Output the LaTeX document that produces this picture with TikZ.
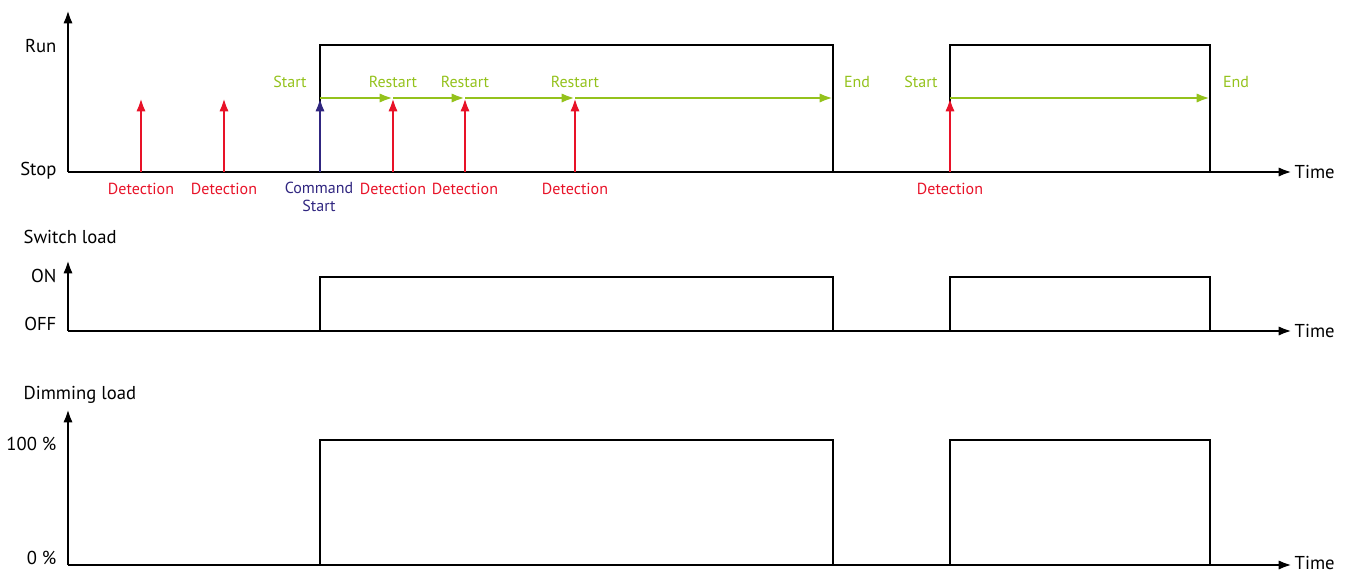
\documentclass[tikz,border=0pt]{standalone}
\usepackage{fontspec}
\setmainfont{PT Sans}
\usetikzlibrary{arrows.meta}

\definecolor{detred}{RGB}{232,18,40}
\definecolor{cmdblue}{RGB}{48,38,128}
\definecolor{timegreen}{RGB}{148,194,28}

\tikzset{
	axis/.style={line width=2pt,-{Latex[length=10pt,width=7pt]}},
	sig/.style={line width=2pt},
	det/.style={detred,line width=2pt,-{Latex[length=10pt,width=7pt]}},
	cmd/.style={cmdblue,line width=2pt,-{Latex[length=10pt,width=7pt]}},
	tmr/.style={timegreen,line width=2pt,-{Latex[length=10pt,width=7pt]}},
	big/.style={font=\fontsize{14}{16}\selectfont,inner sep=1pt},
	small/.style={font=\fontsize{12}{13.5}\selectfont,inner sep=1pt},
}

\begin{document}
\begin{tikzpicture}[x=0.75pt,y=-0.75pt]
	\useasboundingbox (0,0) rectangle (1349,572);

	% run / stop
	\draw[axis] (68,172) -- (68,10);
	\draw[axis] (68,172) -- (1292,172) node[big,anchor=west] (time1) {Time};
	\node[big,anchor=east] (run) at (58,46) {Run};
	\node[big,anchor=east] (stop) at (58,171) {Stop};
	\draw[sig] (320,172) |- (833,45) -- (833,172);
	\draw[sig] (950,172) |- (1210,45) -- (1210,172);

	\foreach \a/\b in {320/393,393/465,465/575,575/833,950/1210}
		\draw[tmr] (\a,98) -- (\b,98);

	\foreach \x [count=\i] in {141,224,393,465,575,950}
		\draw[det] (\x,172) -- (\x,98)
			node[small,text=detred] (det\i) at (\x,189) {Detection};
	\draw[cmd] (320,172) -- (320,98);
	\node[small,text=cmdblue,align=center] (cmd) at (319,197) {Command\\Start};

	\node[small,text=timegreen] (start1) at (290,82) {Start};
	\foreach \x [count=\i] in {393,465,575}
		\node[small,text=timegreen] (restart\i) at (\x,82) {Restart};
	\node[small,text=timegreen] (end1) at (857,82) {End};
	\node[small,text=timegreen] (start2) at (921,82) {Start};
	\node[small,text=timegreen] (end2) at (1236,82) {End};

	% switch load
	\draw[axis] (68,331) -- (68,260);
	\draw[axis] (68,331) -- (1292,331) node[big,anchor=west] (time2) {Time};
	\node[big,anchor=west] (swl) at (22,237) {Switch load};
	\node[big,anchor=east] (on) at (58,276) {ON};
	\node[big,anchor=east] (off) at (58,324) {OFF};
	\draw[sig] (320,331) |- (833,277) -- (833,331);
	\draw[sig] (950,331) |- (1210,277) -- (1210,331);

	% dimming load
	\draw[axis] (68,565) -- (68,409);
	\draw[axis] (68,565) -- (1292,565) node[big,anchor=west,yshift=1.5pt] (time3) {Time};
	\node[big,anchor=west] (dml) at (22,395) {Dimming load};
	\node[big,anchor=east] (full) at (58,444) {100 \%};
	\node[big,anchor=east] (zero) at (58,558) {0 \%};
	\draw[sig] (320,565) |- (833,440) -- (833,565);
	\draw[sig] (950,565) |- (1210,440) -- (1210,565);
\end{tikzpicture}
\end{document}
